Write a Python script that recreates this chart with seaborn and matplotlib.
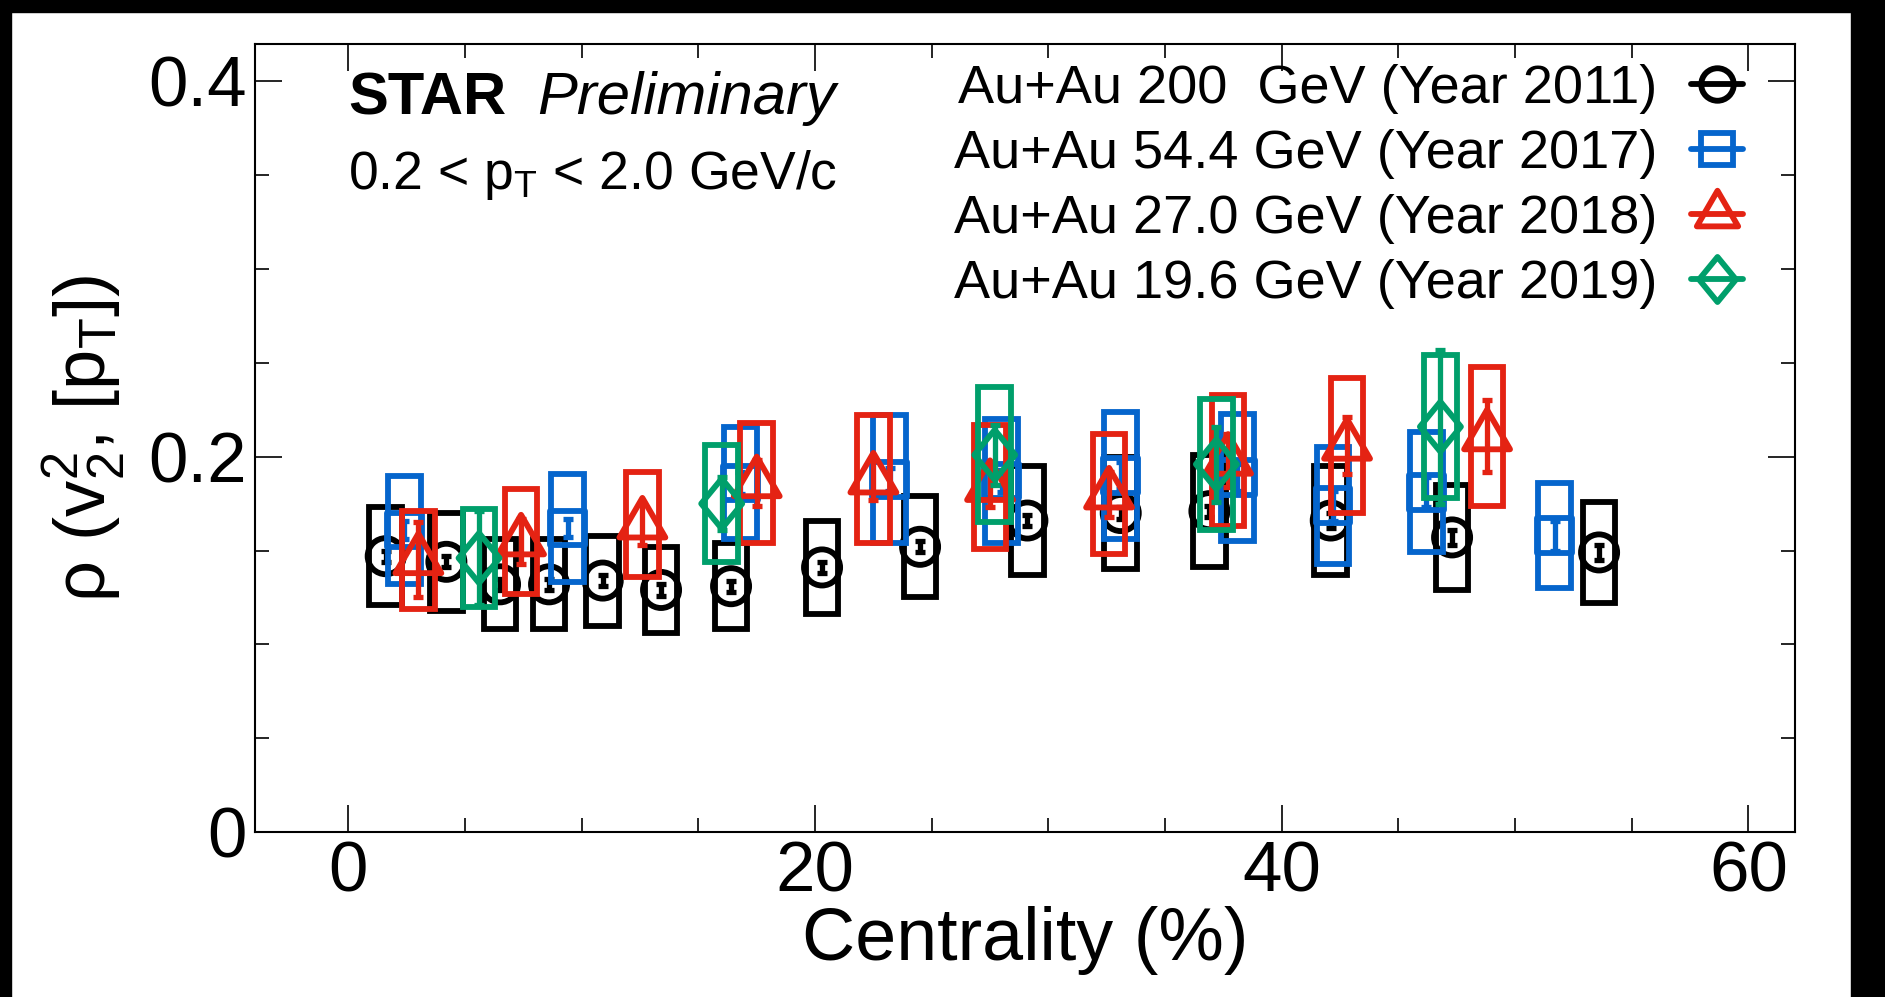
import numpy as np
import matplotlib
matplotlib.use("Agg")
import matplotlib.pyplot as plt
import seaborn as sns
from matplotlib.path import Path
from matplotlib.lines import Line2D
from matplotlib.patches import Rectangle
from matplotlib.ticker import MultipleLocator, FixedLocator

# ---- data: rho(v2^2,[pT]) vs centrality, stat. errors and sys. boxes ----
cent_200 = [1.6, 4.2, 6.5, 8.6, 10.9, 13.4, 16.4, 20.3, 24.5, 29.1, 33.1, 36.9, 42.1, 47.3, 53.6]
rho_200 = [0.147, 0.144, 0.132, 0.132, 0.134, 0.129, 0.131, 0.141, 0.152, 0.166, 0.170, 0.171, 0.166, 0.157, 0.149]
stat_200 = [0.003, 0.003, 0.003, 0.003, 0.003, 0.003, 0.003, 0.003, 0.003, 0.003, 0.003, 0.003, 0.004, 0.004, 0.004]
sys_200 = [0.026, 0.026, 0.024, 0.024, 0.024, 0.023, 0.023, 0.025, 0.027, 0.029, 0.030, 0.030, 0.029, 0.028, 0.027]

cent_54 = [2.4, 9.4, 16.8, 23.2, 28.0, 33.1, 38.1, 42.2, 46.2, 51.7]
rho_54 = [0.161, 0.162, 0.186, 0.188, 0.187, 0.190, 0.189, 0.174, 0.181, 0.158]
stat_54 = [0.005, 0.005, 0.006, 0.006, 0.006, 0.007, 0.007, 0.008, 0.008, 0.008]
sys_54 = [0.029, 0.029, 0.030, 0.034, 0.033, 0.034, 0.034, 0.031, 0.032, 0.028]

cent_27 = [3.0, 7.4, 12.6, 17.5, 22.5, 27.5, 32.6, 37.7, 42.8, 48.8]
rho_27 = [0.145, 0.155, 0.164, 0.186, 0.188, 0.184, 0.180, 0.198, 0.206, 0.211]
stat_27 = [0.020, 0.012, 0.011, 0.012, 0.011, 0.011, 0.012, 0.014, 0.015, 0.019]
sys_27 = [0.026, 0.028, 0.028, 0.032, 0.034, 0.033, 0.032, 0.035, 0.036, 0.037]

cent_19 = [5.6, 16.0, 27.7, 37.2, 46.8]
rho_19 = [0.146, 0.175, 0.201, 0.196, 0.216]
stat_19 = [0.025, 0.014, 0.016, 0.020, 0.041]
sys_19 = [0.026, 0.031, 0.036, 0.035, 0.038]

labels = ["Au+Au 200  GeV (Year 2011)", "Au+Au 54.4 GeV (Year 2017)",
          "Au+Au 27.0 GeV (Year 2018)", "Au+Au 19.6 GeV (Year 2019)"]
colors = ["#000000", "#0565CC", "#E42313", "#009F6B"]

# ---- marker shapes (triangle centred on its centroid, narrow diamond) ----
tri = Path([(0, 1.0), (-0.87, -0.5), (0.87, -0.5), (0, 1.0)],
           [Path.MOVETO, Path.LINETO, Path.LINETO, Path.CLOSEPOLY])
dia = Path([(0, 1.0), (0.82, 0), (0, -1.0), (-0.82, 0), (0, 1.0)],
           [Path.MOVETO, Path.LINETO, Path.LINETO, Path.LINETO, Path.CLOSEPOLY])
markers = ["o", "s", tri, dia]
msizes = [26, 25, 38, 36]

series = [
    (cent_200, rho_200, stat_200, sys_200),
    (cent_54, rho_54, stat_54, sys_54),
    (cent_27, rho_27, stat_27, sys_27),
    (cent_19, rho_19, stat_19, sys_19),
]

sns.set_theme(style="ticks")
plt.rcParams["font.family"] = ["Liberation Sans", "DejaVu Sans"]
plt.rcParams["mathtext.fontset"] = "custom"
plt.rcParams["mathtext.rm"] = "Liberation Sans"
plt.rcParams["mathtext.it"] = "Liberation Sans:italic"
plt.rcParams["mathtext.bf"] = "Liberation Sans:bold"
for key in ["text.color", "axes.labelcolor", "xtick.color", "ytick.color",
            "axes.edgecolor"]:
    plt.rcParams[key] = "black"

fig = plt.figure(figsize=(18.85, 9.97), dpi=100)
fig.patch.set_facecolor("white")
ax = fig.add_axes([0.1353, 0.1655, 0.8170, 0.7904])

box_w = 1.4
lw = 4.2
for i, ((x, y, st, sy), c, m, ms) in enumerate(zip(series, colors, markers, msizes)):
    x = np.asarray(x); y = np.asarray(y); sy = np.asarray(sy)
    z = 3 + i * 3
    ax.bar(x, 2 * sy, bottom=y - sy, width=box_w, fill=False,
           edgecolor=c, linewidth=lw, zorder=z)
    ax.errorbar(x, y, yerr=st, fmt="none", ecolor=c, elinewidth=3.8,
                capsize=3.8, capthick=3.8, zorder=z + 1)
    sns.scatterplot(x=x, y=y, marker=m, s=ms ** 2, facecolor="none",
                    edgecolor=c, linewidth=lw, ax=ax, zorder=z + 2, legend=False)

ax.set_xlim(-4, 62)
ax.set_ylim(0, 0.42)
ax.xaxis.set_major_locator(FixedLocator([0, 20, 40, 60]))
ax.xaxis.set_minor_locator(MultipleLocator(5))
ax.yaxis.set_major_locator(FixedLocator([0, 0.2, 0.4]))
ax.yaxis.set_minor_locator(MultipleLocator(0.05))
ax.set_yticklabels(["0", "0.2", "0.4"])
ax.tick_params(which="both", direction="in", top=True, right=True,
               width=1.2, color="black")
ax.tick_params(which="major", length=19.5)
ax.tick_params(which="minor", length=10)
ax.tick_params(axis="y", which="major", labelsize=51, pad=6)
ax.tick_params(axis="x", which="major", labelsize=51, pad=6)
for sp in ax.spines.values():
    sp.set_linewidth(1.5)
    sp.set_color("black")

ax.set_xlabel("Centrality (%)", fontsize=53)
ax.xaxis.set_label_coords(0.5, -0.094)
ax.set_ylabel(r"ρ ($\mathrm{v}_{2}^{2}$, [$\mathrm{p}_{\mathrm{T}}$])", fontsize=52)
ax.yaxis.set_label_coords(-0.083, 0.5)

ax.text(0.0604, 0.911, "STAR", transform=ax.transAxes, fontsize=43,
        fontweight="bold", va="baseline", ha="left")
ax.text(0.1831, 0.911, "Preliminary", transform=ax.transAxes, fontsize=43,
        style="italic", va="baseline", ha="left")
ax.text(0.0604, 0.816, r"0.2 < p$_{\mathrm{T}}$ < 2.0 GeV/c", transform=ax.transAxes,
        fontsize=38.5, va="baseline", ha="left")

handles = [Line2D([], [], color=c, marker=m, markersize=ms * 0.9, mfc="none",
                  mec=c, mew=lw, linestyle="-", linewidth=lw)
           for c, m, ms in zip(colors, markers, msizes)]
ax.legend(handles, labels, loc="upper right", bbox_to_anchor=(0.966, 0.975),
          frameon=False, fontsize=39, markerfirst=False, handlelength=0.95,
          handletextpad=0.62, labelspacing=0.28, borderpad=0, borderaxespad=0)

# dark frame strips along the image edges
fig.add_artist(Rectangle((0, 0), 11 / 1885, 1, transform=fig.transFigure,
                         color="black", zorder=10))
fig.add_artist(Rectangle((0, 1 - 12 / 997), 1, 12 / 997, transform=fig.transFigure,
                         color="black", zorder=10))
fig.add_artist(Rectangle((1851 / 1885, 0), 34 / 1885, 1, transform=fig.transFigure,
                         color="black", zorder=10))

fig.savefig("out.png", dpi=100)
